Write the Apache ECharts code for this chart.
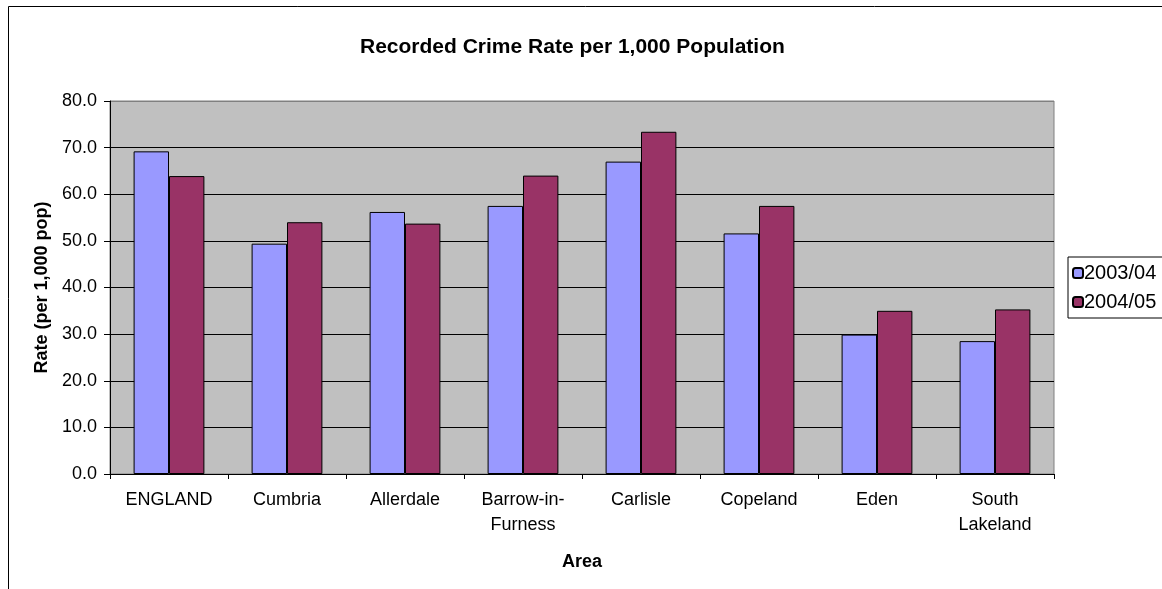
<!DOCTYPE html>
<html>
<head>
<meta charset="utf-8">
<script src="https://cdn.jsdelivr.net/npm/echarts@6/dist/echarts.min.js"></script>
<style>
  html, body { margin: 0; padding: 0; background: #fff; }
  #chart { width: 1162px; height: 589px; }
</style>
</head>
<body>
<div id="chart"></div>
<script>
const areas = ['ENGLAND', 'Cumbria', 'Allerdale', 'Barrow-in-\nFurness', 'Carlisle', 'Copeland', 'Eden', 'South\nLakeland']
const rate0304 = [69.2, 49.4, 56.2, 57.5, 67.0, 51.6, 29.9, 28.5]
const rate0405 = [63.9, 54.0, 53.7, 64.0, 73.4, 57.5, 35.0, 35.3]
const seriesNames = ['2003/04', '2004/05']

const chart = echarts.init(document.getElementById('chart'))
const font = 'Liberation Sans, Arial, sans-serif'

const option = {
  animation: false,
  textStyle: { fontFamily: font },
  title: {
    text: 'Recorded Crime Rate per 1,000 Population',
    left: 355,
    top: 32,
    textStyle: { fontSize: 21, fontWeight: 'bold', color: '#000', fontFamily: font }
  },
  legend: {
    data: seriesNames,
    orient: 'vertical',
    left: 1068,
    top: 257,
    itemWidth: 10,
    itemHeight: 10,
    itemGap: 9,
    padding: [6, 30, 6, 4],
    borderColor: '#000',
    borderWidth: 1,
    backgroundColor: '#fff',
    textStyle: { fontSize: 20, color: '#000', fontFamily: font, padding: [0, 0, 0, -4] }
  },
  grid: {
    left: 110,
    right: 108,
    top: 101,
    bottom: 115,
    show: true,
    backgroundColor: '#C0C0C0',
    borderColor: '#808080',
    borderWidth: 1
  },
  xAxis: {
    type: 'category',
    data: areas,
    name: 'Area',
    nameLocation: 'middle',
    nameGap: 79,
    nameTextStyle: { fontSize: 18, fontWeight: 'bold', color: '#000' },
    axisLine: { lineStyle: { color: '#000', width: 1 } },
    axisTick: { show: true, length: 5, lineStyle: { color: '#000' } },
    axisLabel: { fontSize: 18, color: '#000', margin: 14, lineHeight: 25, interval: 0 }
  },
  yAxis: {
    type: 'value',
    min: 0,
    max: 80,
    interval: 10,
    name: 'Rate (per 1,000 pop)',
    nameLocation: 'middle',
    nameGap: 59,
    nameRotate: 90,
    nameTextStyle: { fontSize: 18, fontWeight: 'bold', color: '#000' },
    axisLine: { show: true, lineStyle: { color: '#000', width: 1 } },
    axisTick: { show: true, length: 6, lineStyle: { color: '#000' } },
    axisLabel: { fontSize: 18, color: '#000', margin: 13, formatter: v => v.toFixed(1) },
    splitLine: {
      show: true,
      lineStyle: { color: ['#000', '#000', '#000', '#000', '#000', '#000', '#000', '#000', '#808080'], width: 1 }
    }
  },
  series: [
    {
      name: seriesNames[0],
      type: 'bar',
      data: rate0304,
      barGap: '0%',
      barCategoryGap: '40%',
      itemStyle: { color: '#9999FF', borderColor: '#000', borderWidth: 1 }
    },
    {
      name: seriesNames[1],
      type: 'bar',
      data: rate0405,
      itemStyle: { color: '#993366', borderColor: '#000', borderWidth: 1 }
    }
  ],
  graphic: [
    {
      type: 'rect',
      shape: { x: 8.5, y: 6.5, width: 1300, height: 800 },
      style: { fill: 'none', stroke: '#000', lineWidth: 1 },
      z: -10,
      silent: true
    }
  ]
}

chart.setOption(option)
</script>
</body>
</html>
